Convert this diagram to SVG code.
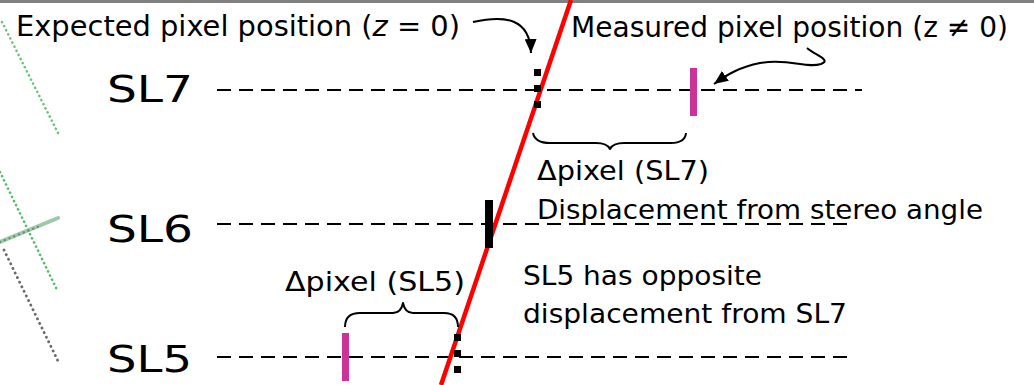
<svg xmlns="http://www.w3.org/2000/svg" width="1034" height="385" viewBox="0 0 1034 385">
<defs>
<style>
text{font-family:"DejaVu Sans","Liberation Sans",sans-serif;fill:#000}
.big{font-size:38px}
.top{font-size:29px}
.mid{font-size:27px}
.dash{stroke:#000;stroke-width:2;stroke-dasharray:14 8;fill:none}
.mag{fill:#cc3399}
.sq{fill:#000}
.conn{stroke:#000;stroke-width:2;fill:none}
.brace{stroke:#000;stroke-width:2;fill:none;stroke-linejoin:round}
</style>
<marker id="ah" viewBox="0 0 14 12" refX="14" refY="6" markerWidth="14" markerHeight="12" markerUnits="userSpaceOnUse" orient="auto">
<path d="M0,0 L14,6 L0,12 z" fill="#000"/>
</marker>
</defs>
<rect x="0" y="0" width="1034" height="385" fill="#fff"/>
<rect x="0" y="0" width="1034" height="3" fill="#808080"/>
<g id="background-fragment" fill="none" stroke-linecap="round">
<line x1="2" y1="22" x2="58" y2="133" stroke="#4cbb5c" stroke-width="2.6" stroke-dasharray="0.1 4.5" stroke-opacity="0.85"/>
<line x1="0" y1="172" x2="58" y2="292" stroke="#3fb552" stroke-width="2.6" stroke-dasharray="0.1 4.5" stroke-opacity="0.9"/>
<line x1="0" y1="242" x2="58" y2="218" stroke="#8cbf9c" stroke-width="4" stroke-opacity="0.85"/>
<line x1="0" y1="242" x2="40" y2="226" stroke="#555" stroke-width="2.2" stroke-dasharray="0.1 5" stroke-opacity="0.6"/>
<line x1="4" y1="250" x2="58" y2="361" stroke="#444" stroke-width="2.8" stroke-dasharray="0.1 5" stroke-opacity="0.8"/>
</g>
<g id="scanlines">
<line class="dash" x1="217" y1="90" x2="862" y2="90"/>
<line class="dash" x1="217" y1="224" x2="848" y2="224"/>
<line class="dash" x1="217" y1="357" x2="848" y2="357"/>
</g>
<g id="track">
<line x1="571" y1="0" x2="441" y2="385" stroke="#ff0000" stroke-width="4.5"/>
</g>
<g id="sl7">
<text class="big" x="107" y="102" textLength="86" lengthAdjust="spacingAndGlyphs">SL7</text>
<rect class="sq" x="534" y="69" width="7" height="7"/>
<rect class="sq" x="534" y="85" width="7" height="7"/>
<rect class="sq" x="534" y="101" width="7" height="7"/>
<rect class="mag" x="690" y="68" width="7" height="48"/>
</g>
<g id="sl6">
<text class="big" x="107" y="242" textLength="86" lengthAdjust="spacingAndGlyphs">SL6</text>
<rect class="sq" x="485" y="200" width="8" height="48"/>
</g>
<g id="sl5">
<text class="big" x="107" y="372" textLength="85" lengthAdjust="spacingAndGlyphs">SL5</text>
<rect class="mag" x="342" y="333" width="7" height="48"/>
<rect class="sq" x="454" y="334" width="7" height="7"/>
<rect class="sq" x="454" y="350" width="7" height="7"/>
<rect class="sq" x="454" y="366" width="7" height="7"/>
</g>
<g id="labels">
<text class="top" x="16" y="36" textLength="444" lengthAdjust="spacingAndGlyphs">Expected pixel position (<tspan font-style="italic">z</tspan> = 0)</text>
<text class="top" x="571" y="37" textLength="437" lengthAdjust="spacingAndGlyphs">Measured pixel position (z ≠ 0)</text>
<text class="mid" x="537" y="180" textLength="172" lengthAdjust="spacingAndGlyphs">Δpixel (SL7)</text>
<text class="mid" x="537" y="219" textLength="446" lengthAdjust="spacingAndGlyphs">Displacement from stereo angle</text>
<text class="mid" x="285" y="291" textLength="180" lengthAdjust="spacingAndGlyphs">Δpixel (SL5)</text>
<text class="mid" x="523" y="285" textLength="239" lengthAdjust="spacingAndGlyphs">SL5 has opposite</text>
<text class="mid" x="523" y="323" textLength="324" lengthAdjust="spacingAndGlyphs">displacement from SL7</text>
</g>
<g id="connectors">
<path class="conn" d="M473,22 C505,15 530,18 531,53" marker-end="url(#ah)"/>
<path class="conn" d="M807,48 C815,55 832,60 821,64 C806,69 790,58 760,63 C740,67 728,74 714,84" marker-end="url(#ah)"/>
<path class="brace" d="M533,133 Q535,143 550,143 L596,143 Q607,143 610,149 Q613,143 624,143 L671,143 Q685,143 686,133"/>
<path class="brace" d="M345,327 Q345,313 360,313 L393,313 Q401,313 403,303 Q405,313 413,313 L444,313 Q458,313 458,327"/>
</g>
</svg>
